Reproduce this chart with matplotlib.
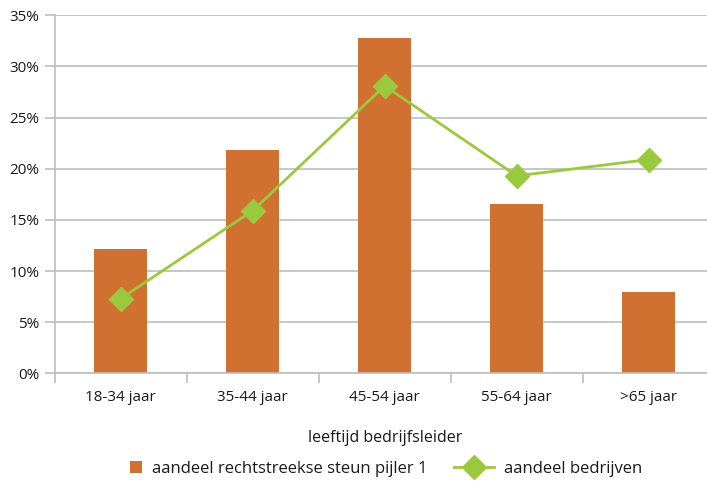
import matplotlib
matplotlib.use("Agg")
import matplotlib.pyplot as plt
from matplotlib.ticker import FuncFormatter, FixedLocator
from matplotlib.patches import Rectangle
from matplotlib.legend_handler import HandlerPatch

categories = ["18-34 jaar", "35-44 jaar", "45-54 jaar", "55-64 jaar", ">65 jaar"]
steun_pijler1 = [12.2, 21.8, 32.8, 16.6, 7.9]
aandeel_bedrijven = [7.3, 15.9, 28.1, 19.3, 20.9]
y_ticks = [0, 5, 10, 15, 20, 25, 30, 35]

bar_color = "#D07131"
line_color = "#9BC93D"
grid_color = "#BEBEBE"
text_color = "#1A1A1A"

plt.rcParams["font.family"] = ["Open Sans", "DejaVu Sans"]

W, H = 707, 483
fig = plt.figure(figsize=(W / 100, H / 100), dpi=100)
left, right, bottom, top = 54.7, 714.7, 373.3, 15.3
ax = fig.add_axes([left / W, 1 - bottom / H, (right - left) / W, (bottom - top) / H])

x = list(range(len(categories)))
bars = ax.bar(x, steun_pijler1, width=0.40, color=bar_color, zorder=2,
              label="aandeel rechtstreekse steun pijler 1")
line, = ax.plot(x, aandeel_bedrijven, color=line_color, lw=2.0, marker="D",
                markersize=12, zorder=3, label="aandeel bedrijven")

ax.set_xlim(-0.5, len(categories) - 0.5)
ax.set_ylim(0, 35)
ax.set_yticks(y_ticks)
ax.yaxis.set_major_formatter(FuncFormatter(lambda v, _: f"{v:.0f}%"))
ax.set_xticks(x)
ax.set_xticklabels(categories)
ax.xaxis.set_minor_locator(FixedLocator([i - 0.5 for i in range(len(categories) + 1)]))

ax.grid(axis="y", color=grid_color, lw=1.2, zorder=0)
for s in ["top", "right"]:
    ax.spines[s].set_visible(False)
for s in ["left", "bottom"]:
    ax.spines[s].set_color(grid_color)
    ax.spines[s].set_linewidth(1.2)

ax.tick_params(axis="y", length=7, color=grid_color, width=1.2,
               labelsize=11, labelcolor=text_color, pad=4)
ax.tick_params(axis="x", which="major", length=0, labelsize=11,
               labelcolor=text_color, pad=12)
ax.tick_params(axis="x", which="minor", length=7, color=grid_color, width=1.2)

ax.set_xlabel("leeftijd bedrijfsleider", fontsize=11.5, color=text_color, labelpad=18)


def square_patch(legend, orig_handle, xdescent, ydescent, width, height, fontsize):
    s = 12 * 72 / 100
    return Rectangle((-xdescent + width - s, -ydescent + (height - s) / 2), s, s)


bar_handle = bars.patches[0]
fig.legend([bar_handle, line], [bars.get_label(), line.get_label()],
           loc="center", bbox_to_anchor=(372 / W, 1 - 469 / H),
           ncol=2, frameon=False, fontsize=12, handlelength=2.4,
           columnspacing=1.6, handletextpad=0.6, labelcolor=text_color,
           handler_map={bar_handle: HandlerPatch(patch_func=square_patch)})

fig.savefig("out.png", dpi=100)
